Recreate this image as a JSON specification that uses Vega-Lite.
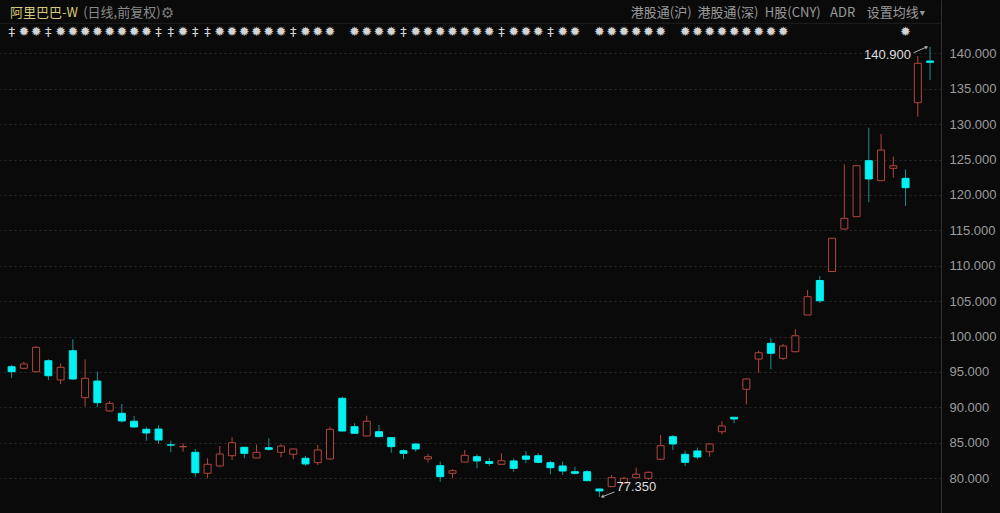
{
"$schema":"https://vega.github.io/schema/vega-lite/v6.json",
"width":941,"height":513,"padding":{"left":0,"top":0,"right":59,"bottom":0},"autosize":{"type":"none"},
"background":"#0a0a0a",
"config":{"view":{"stroke":null},"text":{"font":"Noto Sans CJK SC"}},
"datasets":{
"k":[
{"i":1,"o":95.73,"h":95.97,"l":94.14,"c":95.03},
{"i":2,"o":95.51,"h":96.44,"l":95.37,"c":96.12},
{"i":3,"o":95.03,"h":98.66,"l":95.03,"c":98.47},
{"i":4,"o":96.58,"h":96.78,"l":93.86,"c":94.46},
{"i":5,"o":93.86,"h":96.21,"l":93.29,"c":95.65},
{"i":6,"o":97.99,"h":99.60,"l":93.85,"c":94.00},
{"i":7,"o":91.36,"h":96.78,"l":90.08,"c":94.10},
{"i":8,"o":93.71,"h":95.03,"l":90.00,"c":90.65},
{"i":9,"o":89.48,"h":90.89,"l":89.38,"c":90.56},
{"i":10,"o":89.15,"h":90.47,"l":87.82,"c":88.07},
{"i":11,"o":88.03,"h":88.77,"l":87.12,"c":87.22},
{"i":12,"o":86.89,"h":87.26,"l":85.28,"c":86.37},
{"i":13,"o":86.93,"h":87.50,"l":84.82,"c":85.38},
{"i":14,"o":84.70,"h":85.28,"l":83.64,"c":84.66},
{"i":15,"o":84.42,"h":84.92,"l":83.73,"c":84.46},
{"i":16,"o":83.64,"h":84.11,"l":80.20,"c":80.76},
{"i":17,"o":80.68,"h":82.80,"l":79.97,"c":81.95},
{"i":18,"o":81.71,"h":84.53,"l":81.60,"c":83.40},
{"i":19,"o":83.16,"h":85.76,"l":82.56,"c":85.00},
{"i":20,"o":84.35,"h":84.40,"l":82.80,"c":83.50},
{"i":21,"o":82.84,"h":84.77,"l":82.80,"c":83.64},
{"i":22,"o":84.29,"h":85.62,"l":83.87,"c":84.07},
{"i":23,"o":83.64,"h":84.77,"l":82.94,"c":84.53},
{"i":24,"o":83.36,"h":84.15,"l":82.66,"c":84.11},
{"i":25,"o":82.80,"h":83.12,"l":81.75,"c":82.00},
{"i":26,"o":82.18,"h":84.68,"l":81.85,"c":83.97},
{"i":27,"o":82.70,"h":87.26,"l":82.60,"c":86.89},
{"i":28,"o":91.27,"h":91.50,"l":86.60,"c":86.65},
{"i":29,"o":87.26,"h":87.74,"l":86.30,"c":86.33},
{"i":30,"o":85.95,"h":88.81,"l":85.90,"c":88.03},
{"i":31,"o":86.55,"h":87.50,"l":85.80,"c":85.85},
{"i":32,"o":85.71,"h":85.80,"l":83.59,"c":84.44},
{"i":33,"o":83.87,"h":84.07,"l":82.66,"c":83.50},
{"i":34,"o":84.82,"h":84.90,"l":83.73,"c":84.11},
{"i":35,"o":82.70,"h":83.40,"l":82.18,"c":83.02},
{"i":36,"o":81.75,"h":82.32,"l":79.49,"c":80.20},
{"i":37,"o":80.68,"h":81.28,"l":79.97,"c":81.05},
{"i":38,"o":82.27,"h":83.97,"l":82.20,"c":83.22},
{"i":39,"o":83.02,"h":83.36,"l":81.38,"c":82.42},
{"i":40,"o":82.35,"h":82.88,"l":81.71,"c":82.06},
{"i":41,"o":81.95,"h":83.50,"l":81.90,"c":82.46},
{"i":42,"o":82.42,"h":82.80,"l":80.90,"c":81.38},
{"i":43,"o":83.12,"h":83.83,"l":82.09,"c":82.66},
{"i":44,"o":83.16,"h":83.50,"l":82.09,"c":82.23},
{"i":45,"o":82.18,"h":82.46,"l":80.54,"c":81.47},
{"i":46,"o":81.71,"h":82.32,"l":80.44,"c":81.00},
{"i":47,"o":80.90,"h":81.61,"l":80.54,"c":80.68},
{"i":48,"o":80.90,"h":81.14,"l":79.60,"c":79.63},
{"i":49,"o":78.46,"h":78.50,"l":77.35,"c":78.18},
{"i":50,"o":78.79,"h":80.44,"l":78.75,"c":80.06},
{"i":51,"o":79.27,"h":80.20,"l":79.20,"c":79.97},
{"i":52,"o":80.06,"h":81.47,"l":80.00,"c":80.54},
{"i":53,"o":79.97,"h":80.90,"l":79.73,"c":80.82},
{"i":54,"o":82.66,"h":86.09,"l":82.56,"c":84.58},
{"i":55,"o":85.85,"h":86.09,"l":83.97,"c":84.82},
{"i":56,"o":83.36,"h":83.87,"l":81.71,"c":82.23},
{"i":57,"o":83.83,"h":84.29,"l":82.66,"c":82.98},
{"i":58,"o":83.73,"h":84.92,"l":83.02,"c":84.82},
{"i":59,"o":86.55,"h":88.03,"l":86.19,"c":87.36},
{"i":60,"o":88.59,"h":88.65,"l":87.74,"c":88.35},
{"i":61,"o":92.54,"h":94.10,"l":90.42,"c":94.00},
{"i":62,"o":96.82,"h":97.99,"l":94.89,"c":97.71},
{"i":63,"o":99.04,"h":99.75,"l":95.37,"c":97.63},
{"i":64,"o":96.92,"h":98.94,"l":96.68,"c":98.66},
{"i":65,"o":97.85,"h":101.02,"l":97.77,"c":100.11},
{"i":66,"o":103.04,"h":106.57,"l":103.00,"c":105.62},
{"i":67,"o":107.91,"h":108.55,"l":104.73,"c":105.04},
{"i":68,"o":109.18,"h":113.90,"l":109.18,"c":113.87},
{"i":69,"o":115.18,"h":124.32,"l":115.10,"c":116.69},
{"i":70,"o":116.92,"h":124.22,"l":116.90,"c":124.12},
{"i":71,"o":124.83,"h":129.49,"l":118.95,"c":122.25},
{"i":72,"o":122.01,"h":128.60,"l":121.95,"c":126.34},
{"i":73,"o":123.76,"h":125.40,"l":122.43,"c":124.12},
{"i":74,"o":122.34,"h":123.62,"l":118.43,"c":121.02},
{"i":75,"o":133.02,"h":139.62,"l":131.05,"c":138.59},
{"i":76,"o":138.91,"h":140.90,"l":136.23,"c":138.73}
],
"ev":[
{"i":1,"s":"‡"},{"i":2,"s":"✹"},{"i":3,"s":"✹"},{"i":4,"s":"‡"},{"i":5,"s":"✹"},{"i":6,"s":"✹"},{"i":7,"s":"✹"},{"i":8,"s":"✹"},{"i":9,"s":"✹"},{"i":10,"s":"✹"},
{"i":11,"s":"✹"},{"i":12,"s":"✹"},{"i":13,"s":"‡"},{"i":14,"s":"‡"},{"i":15,"s":"✹"},{"i":16,"s":"‡"},{"i":17,"s":"‡"},{"i":18,"s":"✹"},{"i":19,"s":"✹"},{"i":20,"s":"✹"},
{"i":21,"s":"✹"},{"i":22,"s":"✹"},{"i":23,"s":"✹"},{"i":24,"s":"‡"},{"i":25,"s":"✹"},{"i":26,"s":"✹"},{"i":27,"s":"✹"},
{"i":29,"s":"✹"},{"i":30,"s":"✹"},{"i":31,"s":"✹"},{"i":32,"s":"✹"},{"i":33,"s":"‡"},{"i":34,"s":"✹"},{"i":35,"s":"✹"},{"i":36,"s":"✹"},{"i":37,"s":"✹"},{"i":38,"s":"✹"},{"i":39,"s":"✹"},{"i":40,"s":"✹"},
{"i":41,"s":"‡"},{"i":42,"s":"✹"},{"i":43,"s":"✹"},{"i":44,"s":"✹"},{"i":45,"s":"‡"},{"i":46,"s":"✹"},{"i":47,"s":"✹"},
{"i":49,"s":"✹"},{"i":50,"s":"✹"},{"i":51,"s":"✹"},{"i":52,"s":"✹"},{"i":53,"s":"✹"},{"i":54,"s":"✹"},
{"i":56,"s":"✹"},{"i":57,"s":"✹"},{"i":58,"s":"✹"},{"i":59,"s":"✹"},{"i":60,"s":"✹"},{"i":61,"s":"✹"},{"i":62,"s":"✹"},{"i":63,"s":"✹"},{"i":64,"s":"✹"},
{"i":74,"s":"✹"}
]
},
"layer":[
{"data":{"name":"k"},"mark":{"type":"rule","strokeWidth":1},
 "encoding":{
  "x":{"field":"i","type":"quantitative","scale":{"domain":[0.4587,76.486],"nice":false,"zero":false},"axis":null},
  "y":{"field":"l","type":"quantitative","scale":{"domain":[75.07,147.53],"nice":false,"zero":false},
   "axis":{"orient":"right","values":[80,85,90,95,100,105,110,115,120,125,130,135,140],"format":".3f","title":null,"ticks":false,
    "labelColor":"#9c9c9c","labelFontSize":13,"labelFont":"Liberation Sans","labelPadding":8,
    "grid":true,"gridColor":"#2b2b2b","gridDash":[2,3],"gridWidth":1,"domain":true,"domainColor":"#303030"}},
  "y2":{"field":"h"},
  "stroke":{"condition":{"test":"datum.c > datum.o","value":"#b3453d"},"value":"#22908e"}}},
{"data":{"name":"k"},"mark":{"type":"bar","width":7,"strokeWidth":1},
 "encoding":{
  "x":{"field":"i","type":"quantitative","scale":{"domain":[0.4587,76.486],"nice":false,"zero":false},"axis":null},
  "y":{"field":"o","type":"quantitative","scale":{"domain":[75.07,147.53],"nice":false,"zero":false},
   "axis":{"orient":"right","values":[80,85,90,95,100,105,110,115,120,125,130,135,140],"format":".3f","title":null,"ticks":false,
    "labelColor":"#9c9c9c","labelFontSize":13,"labelFont":"Liberation Sans","labelPadding":8,
    "grid":true,"gridColor":"#2b2b2b","gridDash":[2,3],"gridWidth":1,"domain":true,"domainColor":"#303030"}},
  "y2":{"field":"c"},
  "fill":{"condition":{"test":"datum.c > datum.o","value":"#0a0a0a"},"value":"#00f2f2"},
  "stroke":{"condition":{"test":"datum.c > datum.o","value":"#b3453d"},"value":"#00f2f2"}}},
{"data":{"name":"ev"},"mark":{"type":"text","font":"DejaVu Sans","fontSize":13,"color":"#d4d4d4","baseline":"middle","align":"center"},
 "encoding":{
  "x":{"field":"i","type":"quantitative","scale":{"domain":[0.4587,76.486],"nice":false,"zero":false},"axis":null},
  "y":{"datum":143.08,"type":"quantitative"},
  "text":{"field":"s"}}},
{"data":{"name":"k"},"transform":[{"filter":"datum.i == 76"}],
 "mark":{"type":"text","font":"Liberation Sans","fontSize":13,"color":"#dedede","align":"right","baseline":"middle","dx":-19,"dy":8},
 "encoding":{
  "x":{"field":"i","type":"quantitative"},
  "y":{"field":"h","type":"quantitative"},
  "text":{"field":"h","format":".3f"}}},
{"data":{"name":"k"},"transform":[{"filter":"datum.i == 49"}],
 "mark":{"type":"text","font":"Liberation Sans","fontSize":13,"color":"#dedede","align":"left","baseline":"middle","dx":17,"dy":-10},
 "encoding":{
  "x":{"field":"i","type":"quantitative"},
  "y":{"field":"l","type":"quantitative"},
  "text":{"field":"l","format":".3f"}}},
{"data":{"values":[{}]},"mark":{"type":"rule","color":"#b0b0b0","strokeWidth":1},
 "encoding":{
  "x":{"datum":74.65,"type":"quantitative"},
  "x2":{"datum":75.7},
  "y":{"datum":140.08,"type":"quantitative"},
  "y2":{"datum":140.88}}},
{"data":{"values":[{}]},"mark":{"type":"point","shape":"triangle-right","angle":337,"filled":true,"size":14,"color":"#b0b0b0","opacity":1},
 "encoding":{
  "x":{"datum":75.72,"type":"quantitative"},
  "y":{"datum":140.88,"type":"quantitative"}}},
{"data":{"values":[{}]},"mark":{"type":"rule","color":"#b0b0b0","strokeWidth":1},
 "encoding":{
  "x":{"datum":49.25,"type":"quantitative"},
  "x2":{"datum":50.23},
  "y":{"datum":77.37,"type":"quantitative"},
  "y2":{"datum":78.04}}},
{"data":{"values":[{}]},"mark":{"type":"point","shape":"triangle-left","angle":340,"filled":true,"size":14,"color":"#b0b0b0","opacity":1},
 "encoding":{
  "x":{"datum":49.23,"type":"quantitative"},
  "y":{"datum":77.37,"type":"quantitative"}}},
{"data":{"values":[{}]},"mark":{"type":"rule","color":"#1f1f1f","strokeWidth":1},
 "encoding":{"y":{"datum":144.24,"type":"quantitative"}}},
{"data":{"values":[{}]},"mark":{"type":"text","fontSize":13,"color":"#d6c97e","align":"left","baseline":"middle"},
 "encoding":{"x":{"datum":0.87,"type":"quantitative"},"y":{"datum":145.76,"type":"quantitative"},"text":{"value":"阿里巴巴-W"}}},
{"data":{"values":[{}]},"mark":{"type":"text","fontSize":13,"color":"#8a8a8a","align":"left","baseline":"middle"},
 "encoding":{"x":{"datum":6.84,"type":"quantitative"},"y":{"datum":145.76,"type":"quantitative"},"text":{"value":"(日线,前复权)"}}},
{"data":{"values":[{}]},"mark":{"type":"text","fontSize":15,"font":"DejaVu Sans","color":"#7a7a7a","align":"left","baseline":"middle"},
 "encoding":{"x":{"datum":13.2,"type":"quantitative"},"y":{"datum":145.76,"type":"quantitative"},"text":{"value":"⚙"}}},
{"data":{"values":[{}]},"mark":{"type":"text","fontSize":13,"color":"#9a9a9a","align":"left","baseline":"middle"},
 "encoding":{"x":{"datum":51.56,"type":"quantitative"},"y":{"datum":145.76,"type":"quantitative"},"text":{"value":"港股通(沪)"}}},
{"data":{"values":[{}]},"mark":{"type":"text","fontSize":13,"color":"#9a9a9a","align":"left","baseline":"middle"},
 "encoding":{"x":{"datum":57.01,"type":"quantitative"},"y":{"datum":145.76,"type":"quantitative"},"text":{"value":"港股通(深)"}}},
{"data":{"values":[{}]},"mark":{"type":"text","fontSize":13,"color":"#9a9a9a","align":"left","baseline":"middle"},
 "encoding":{"x":{"datum":62.51,"type":"quantitative"},"y":{"datum":145.76,"type":"quantitative"},"text":{"value":"H股(CNY)"}}},
{"data":{"values":[{}]},"mark":{"type":"text","fontSize":13,"color":"#9a9a9a","align":"left","baseline":"middle"},
 "encoding":{"x":{"datum":67.84,"type":"quantitative"},"y":{"datum":145.76,"type":"quantitative"},"text":{"value":"ADR"}}},
{"data":{"values":[{}]},"mark":{"type":"text","fontSize":13,"color":"#9a9a9a","align":"left","baseline":"middle"},
 "encoding":{"x":{"datum":70.83,"type":"quantitative"},"y":{"datum":145.76,"type":"quantitative"},"text":{"value":"设置均线"}}},
{"data":{"values":[{}]},"mark":{"type":"text","fontSize":10,"font":"DejaVu Sans","color":"#9a9a9a","align":"left","baseline":"middle"},
 "encoding":{"x":{"datum":75.15,"type":"quantitative"},"y":{"datum":145.76,"type":"quantitative"},"text":{"value":"▾"}}}
]
}
